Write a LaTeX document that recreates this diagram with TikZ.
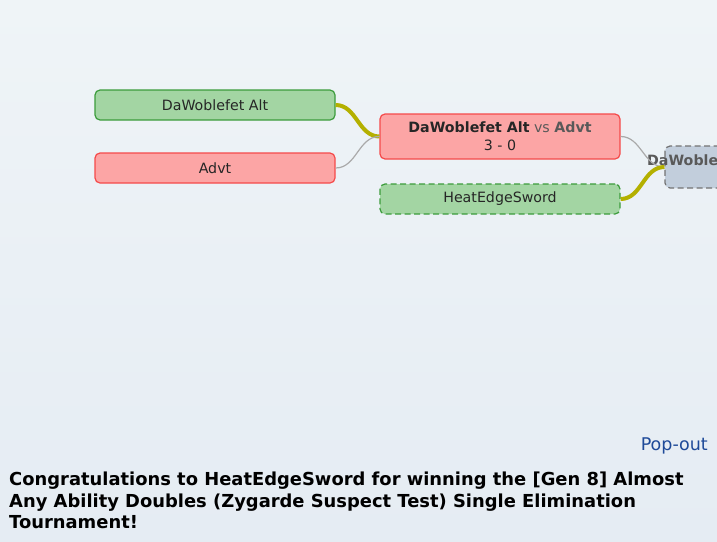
\documentclass[tikz,border=0pt]{standalone}
\usepackage{fontspec}
\setmainfont{DejaVu Sans}
\usepackage{tikz}
\usepackage{xcolor}
\definecolor{win-fill}{HTML}{A3D5A3}
\definecolor{win-draw}{HTML}{3C9C3C}
\definecolor{loss-fill}{HTML}{FCA5A5}
\definecolor{loss-draw}{HTML}{F54A4A}
\definecolor{open-fill}{HTML}{C2CEDC}
\definecolor{win-path}{HTML}{B4B000}
\definecolor{lose-path}{HTML}{AAAAAA}
\definecolor{link-blue}{HTML}{1F4A99}
\definecolor{back-top}{HTML}{EFF4F7}
\definecolor{back-bottom}{HTML}{E5ECF3}
\tikzset{
    player-box/.style = {rectangle, rounded corners=5pt, minimum width=240pt, minimum height=30pt, inner sep=0pt, line width=1.2pt, font=\fontsize{14.2}{17}\selectfont, text=black!85},
    win-box/.style = {player-box, draw=win-draw, fill=win-fill},
    loss-box/.style = {player-box, draw=loss-draw, fill=loss-fill},
    open-dash/.style = {dash pattern=on 6pt off 3.5pt},
    win-path/.style = {draw=win-path, line width=4pt},
    lose-path/.style = {draw=lose-path, line width=1.2pt},
}

\begin{document}
\begin{tikzpicture}[x=1pt, y=-1pt]
\shade[top color=back-top, bottom color=back-bottom] (0,0) rectangle (717,541);
\useasboundingbox (0,0) rectangle (717,541);
\clip (0,0) rectangle (717,541);
% first round
\node [win-box] (dawo) at (215,105) {DaWoblefet Alt};
\node [loss-box] (advt) at (215,168) {Advt};
% second round
\node [loss-box, minimum height=45pt, align=center] (match) at (500,136.5) {\textbf{DaWoblefet Alt} {\color{black!65}vs \textbf{Advt}}\\[1pt]3 - 0};
\node [win-box, open-dash] (heat) at (500,199) {HeatEdgeSword};
% final
\node [player-box, draw=black!55, fill=open-fill, open-dash, minimum height=42pt] (final) at (785,167) {};
\node [anchor=west, inner sep=0pt, font=\bfseries\fontsize{14.2}{17}\selectfont, text=black!65] (final-label) at (647,160) {DaWoblefet Alt};
\draw [win-path] (dawo.east) to[out=0, in=180] (match.west);
\draw [lose-path] (advt.east) to[out=0, in=180] (match.west);
\draw [lose-path] (match.east) to[out=0, in=180] (final.west);
\draw [win-path] (heat.east) to[out=0, in=180] (final.west);
\node [anchor=east, inner sep=0pt, font=\fontsize{17.5}{20}\selectfont, text=link-blue] (popout) at (708,446) {Pop-out};
\node [anchor=north west, inner sep=0pt, align=left, font=\bfseries\fontsize{17.9}{21.5}\selectfont] (congrats) at (9,472) {Congratulations to HeatEdgeSword for winning the [Gen 8] Almost\\Any Ability Doubles (Zygarde Suspect Test) Single Elimination\\Tournament!};
\end{tikzpicture}
\end{document}
